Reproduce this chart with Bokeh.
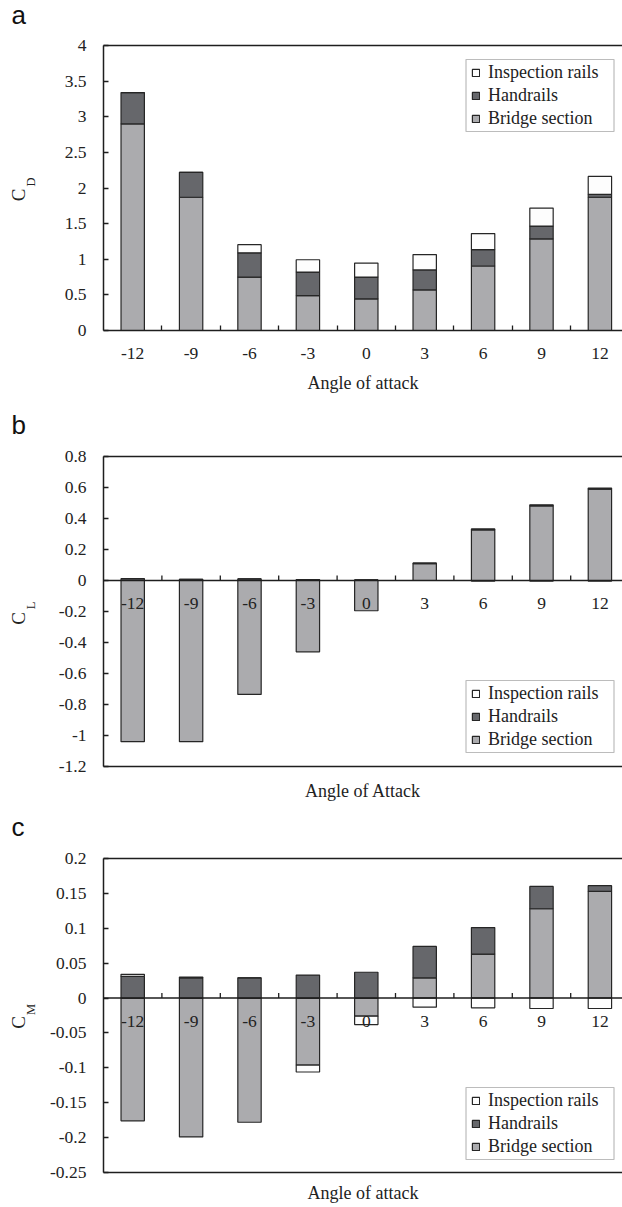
from bokeh.plotting import figure
from bokeh.models import (Range1d, LinearAxis, FixedTicker, Span, Legend, LegendItem,
                          BoxAnnotation, ColumnDataSource)
from bokeh.layouts import column, row
from bokeh.embed import file_html
from bokeh.resources import INLINE
from bokeh.core.properties import value

# ---------------- data ----------------
angles = ["-12", "-9", "-6", "-3", "0", "3", "6", "9", "12"]
series_names = ["Bridge section", "Handrails", "Inspection rails"]

cd_bridge = [2.90, 1.87, 0.75, 0.49, 0.445, 0.57, 0.905, 1.285, 1.87]
cd_handrails = [0.44, 0.35, 0.34, 0.33, 0.305, 0.28, 0.23, 0.18, 0.04]
cd_inspection = [0.0, 0.0, 0.114, 0.173, 0.197, 0.216, 0.225, 0.253, 0.253]

cl_bridge = [-1.04, -1.04, -0.735, -0.46, -0.195, 0.108, 0.327, 0.482, 0.59]
cl_handrails = [0.012, 0.008, 0.01, 0.006, 0.004, 0.005, 0.006, 0.006, 0.006]
cl_inspection = [0.0, 0.0, 0.0, 0.0, 0.0, 0.0, -0.004, -0.004, -0.004]

cm_bridge = [-0.176, -0.199, -0.178, -0.096, -0.026, 0.029, 0.063, 0.128, 0.153]
cm_handrails = [0.031, 0.029, 0.029, 0.033, 0.037, 0.045, 0.038, 0.032, 0.008]
cm_inspection = [0.003, 0.001, 0.0, -0.010, -0.012, -0.013, -0.014, -0.015, -0.015]

cd_ticks = [0, 0.5, 1, 1.5, 2, 2.5, 3, 3.5, 4]
cd_tick_labels = ["0", "0.5", "1", "1.5", "2", "2.5", "3", "3.5", "4"]
cl_ticks = [-1.2, -1.0, -0.8, -0.6, -0.4, -0.2, 0, 0.2, 0.4, 0.6, 0.8]
cl_tick_labels = ["-1.2", "-1", "-0.8", "-0.6", "-0.4", "-0.2", "0", "0.2", "0.4", "0.6", "0.8"]
cm_ticks = [-0.25, -0.2, -0.15, -0.1, -0.05, 0, 0.05, 0.1, 0.15, 0.2]
cm_tick_labels = ["-0.25", "-0.2", "-0.15", "-0.1", "-0.05", "0", "0.05", "0.1", "0.15", "0.2"]

panel_letters = ["a", "b", "c"]
y_symbols = ["C", "C", "C"]
y_subscripts = ["D", "L", "M"]
x_titles = ["Angle of attack", "Angle of Attack", "Angle of attack"]

# ---------------- style / layout ----------------
FILLS = {"Bridge section": "#ababae", "Handrails": "#66676b", "Inspection rails": "#fdfdfd"}
EDGE = "#262626"
AXIS = "#1e1e1e"
TXT = "#222222"
SERIF = "Liberation Serif"
SANS = "Liberation Sans"
TICK_FS = "17.5px"
W = 622
H = 1207
STRIP = 40
LEFT = 103
CAT_W = 58.4
BAR_W = 0.40
PANEL_H = [400, 410, 397]
PANEL_TOP = [45, 56, 48]
PANEL_BOTTOM = [70, 44, 35]
LETTER_BASE = [14, 24, 16]


def stack(series_list):
    n = len(series_list[0])
    pos = [0.0] * n
    neg = [0.0] * n
    out = []
    for s in series_list:
        b, t = [], []
        for i, v in enumerate(s):
            if v >= 0:
                b.append(pos[i]); t.append(pos[i] + v); pos[i] += v
            else:
                b.append(neg[i]); t.append(neg[i] + v); neg[i] += v
        out.append((b, t))
    return out


def make_strip():
    # one narrow full-height figure holding the panel letters and the y-axis titles
    s = figure(width=STRIP, height=H, x_range=Range1d(0, STRIP), y_range=Range1d(H, 0),
               output_backend="svg", toolbar_location=None,
               x_axis_location=None, y_axis_location=None,
               min_border_left=0, min_border_right=0, min_border_top=0, min_border_bottom=0)
    s.outline_line_color = None
    s.xgrid.visible = False
    s.ygrid.visible = False
    s.border_fill_color = "white"
    s.background_fill_color = "white"
    y0 = 0
    lx, ly, cx, cy, sx, sy = [], [], [], [], [], []
    for h, top, bot, base in zip(PANEL_H, PANEL_TOP, PANEL_BOTTOM, LETTER_BASE):
        mid = y0 + top + (h - top - bot) / 2
        lx.append(11); ly.append(y0 + base)
        cx.append(18); cy.append(mid + 7)
        sx.append(30); sy.append(mid - 6)
        y0 += h
    s.text(x=lx, y=ly, text=panel_letters, text_font=value(SANS), text_font_size="26px",
           text_baseline="alphabetic", text_align="left", text_color="#111111")
    s.text(x=cx, y=cy, text=y_symbols, text_font=value(SERIF), text_font_size="19px",
           angle=1.5708, text_align="center", text_baseline="middle", text_color=TXT)
    s.text(x=sx, y=sy, text=y_subscripts, text_font=value(SERIF), text_font_size="12.5px",
           angle=1.5708, text_align="center", text_baseline="middle", text_color=TXT)
    return s


def make_panel(series, ticks, tick_labels, yr, height, top, bottom,
               xlabel, zero_inside, legend_bottom, title_standoff):
    frame_h = height - top - bottom
    pw = W - STRIP
    xr = Range1d(-0.5, -0.5 + (W - LEFT) / CAT_W)
    p = figure(width=pw, height=height, x_range=xr, y_range=Range1d(*yr),
               output_backend="svg", toolbar_location=None,
               x_axis_location=None, y_axis_location=None,
               min_border_left=LEFT - STRIP, min_border_right=0,
               min_border_top=top, min_border_bottom=bottom)
    p.outline_line_color = None
    p.xgrid.visible = False
    p.ygrid.visible = False
    p.background_fill_color = "white"
    p.border_fill_color = "white"

    xs = list(range(len(angles)))
    bounds = [i + 0.5 for i in range(len(angles) - 1)]
    stacked = stack(series)
    renderers = {}
    for name, (b, t) in zip(series_names, stacked):
        src = ColumnDataSource(dict(x=xs, bottom=b, top=t))
        r = p.vbar(x="x", bottom="bottom", top="top", width=BAR_W, source=src,
                   fill_color=FILLS[name], line_color=EDGE, line_width=1.2)
        renderers[name] = r

    # y axis
    yax = LinearAxis(ticker=FixedTicker(ticks=ticks, minor_ticks=[]),
                     major_label_overrides={t: l for t, l in zip(ticks, tick_labels)})
    yax.major_tick_in = 5
    yax.major_tick_out = 0
    yax.minor_tick_line_color = None
    yax.major_label_standoff = 17
    yax.major_label_text_font = SERIF
    yax.major_label_text_font_size = TICK_FS
    yax.major_label_text_color = TXT
    yax.axis_line_color = AXIS
    yax.axis_line_width = 1.5
    yax.major_tick_line_color = AXIS
    yax.major_tick_line_width = 1.3
    p.add_layout(yax, "left")

    # top frame line
    top_ax = LinearAxis(ticker=FixedTicker(ticks=[], minor_ticks=[]))
    top_ax.axis_line_color = AXIS
    top_ax.axis_line_width = 1.3
    top_ax.major_tick_line_color = None
    top_ax.minor_tick_line_color = None
    top_ax.major_label_text_font_size = "0px"
    p.add_layout(top_ax, "above")

    if not zero_inside:
        xax = LinearAxis(ticker=FixedTicker(ticks=xs, minor_ticks=bounds),
                         major_label_overrides={x: a for x, a in zip(xs, angles)})
        xax.major_tick_in = 0
        xax.major_tick_out = 0
        xax.minor_tick_in = 5
        xax.minor_tick_out = 0
        xax.minor_tick_line_color = AXIS
        xax.minor_tick_line_width = 1.3
        xax.major_label_standoff = 17
        xax.major_label_text_font = SERIF
        xax.major_label_text_font_size = TICK_FS
        xax.major_label_text_color = TXT
        xax.axis_line_color = AXIS
        xax.axis_line_width = 1.5
    else:
        xax = LinearAxis(ticker=FixedTicker(ticks=[], minor_ticks=[]))
        xax.axis_line_color = AXIS
        xax.axis_line_width = 1.5
        xax.major_tick_line_color = None
        xax.minor_tick_line_color = None
        xax.major_label_text_font_size = "0px"
        # zero line with inward ticks and category labels
        p.add_layout(Span(location=0, dimension="width", line_color=AXIS, line_width=1.5))
        unit = (yr[1] - yr[0]) / frame_h
        p.segment(x0=bounds, y0=[0] * len(bounds), x1=bounds, y1=[5 * unit] * len(bounds),
                  line_color=AXIS, line_width=1.3)
        p.text(x=xs, y=[0] * len(xs), text=angles, text_font=value(SERIF),
               text_font_size=TICK_FS, text_align="center", text_baseline="middle",
               y_offset=23, text_color=TXT)
    xax.axis_label = xlabel
    xax.axis_label_text_font = SERIF
    xax.axis_label_text_font_style = "normal"
    xax.axis_label_text_font_size = "18px"
    xax.axis_label_text_color = TXT
    xax.axis_label_standoff = title_standoff
    p.add_layout(xax, "below")

    # legend box (frame-relative screen units) and legend
    box_left = 465.5 - LEFT
    box_right = 613.5 - LEFT
    p.add_layout(BoxAnnotation(left=box_left, right=box_right,
                               bottom=legend_bottom, top=legend_bottom + 72,
                               left_units="screen", right_units="screen",
                               bottom_units="screen", top_units="screen",
                               fill_color="white", fill_alpha=1.0,
                               line_color="#222222", line_width=1.2))
    legend = Legend(items=[LegendItem(label=n, renderers=[renderers[n]])
                           for n in ["Inspection rails", "Handrails", "Bridge section"]],
                    location=(471 - LEFT, legend_bottom + 2), orientation="vertical",
                    border_line_color=None, background_fill_alpha=0.0,
                    padding=2, spacing=2, margin=0,
                    glyph_width=9, glyph_height=9, label_standoff=8,
                    label_text_font=SERIF, label_text_font_size="18px",
                    label_text_color=TXT)
    p.add_layout(legend)
    return p


strip = make_strip()
pa = make_panel([cd_bridge, cd_handrails, cd_inspection], cd_ticks, cd_tick_labels,
                (0, 4), PANEL_H[0], PANEL_TOP[0], PANEL_BOTTOM[0], x_titles[0], False, 199, 11)
pb = make_panel([cl_bridge, cl_handrails, cl_inspection], cl_ticks, cl_tick_labels,
                (-1.2, 0.8), PANEL_H[1], PANEL_TOP[1], PANEL_BOTTOM[1], x_titles[1], True, 14, 14)
pc = make_panel([cm_bridge, cm_handrails, cm_inspection], cm_ticks, cm_tick_labels,
                (-0.25, 0.2), PANEL_H[2], PANEL_TOP[2], PANEL_BOTTOM[2], x_titles[2], True, 13, 10)

layout = row(strip, column(pa, pb, pc, spacing=0), spacing=0)
open("out.html", "w").write(file_html(layout, INLINE))
